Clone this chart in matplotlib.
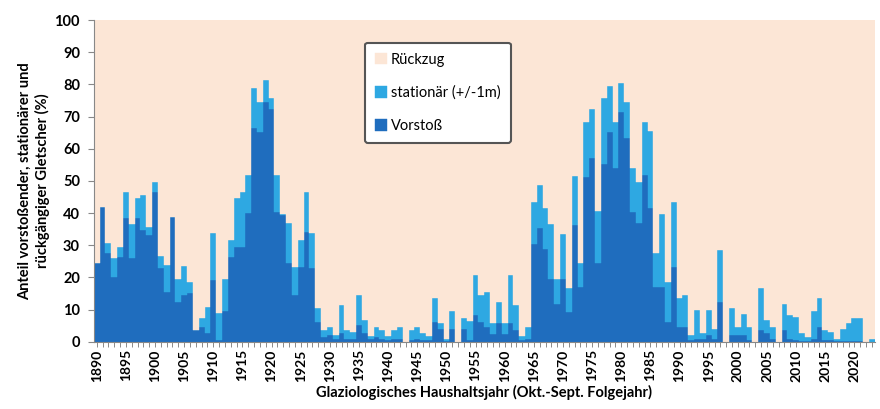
import numpy as np
import matplotlib
matplotlib.use("Agg")
import matplotlib.pyplot as plt
from matplotlib.ticker import MultipleLocator

plt.rcParams['font.family'] = ['Lato', 'DejaVu Sans']

years = list(range(1890, 2024))

# Anteil vorstoßender + stationärer Gletscher (Summe, %)
total = [
    24.6, 41.8, 30.6, 25.9, 29.5, 46.6, 36.6, 44.6, 45.6, 35.8,   # 1890-1899
    49.8, 26.6, 23.8, 38.9, 19.5, 23.6, 18.7, 3.6, 7.5, 10.8,     # 1900-1909
    33.7, 8.8, 19.5, 31.5, 44.8, 46.6, 51.8, 78.8, 74.6, 81.4,    # 1910-1919
    75.7, 51.8, 39.7, 36.8, 23.3, 31.6, 46.6, 33.7, 10.4, 3.6,    # 1920-1929
    4.7, 2.1, 11.4, 3.6, 3.1, 14.5, 6.7, 1.8, 4.7, 3.6,           # 1930-1939
    1.8, 3.6, 4.7, 0.0, 3.6, 4.7, 2.6, 1.8, 13.5, 5.7,            # 1940-1949
    0.7, 9.6, 0.0, 7.3, 6.5, 20.7, 14.5, 15.5, 5.7, 12.4,         # 1950-1959
    5.7, 20.7, 11.5, 1.7, 4.6, 43.5, 48.7, 41.7, 36.5, 19.4,      # 1960-1969
    33.6, 16.6, 51.6, 24.5, 68.4, 72.5, 40.6, 75.7, 79.5, 68.4,   # 1970-1979
    80.5, 74.6, 53.9, 49.7, 68.4, 65.6, 27.5, 39.7, 18.7, 43.5,   # 1980-1989
    13.5, 14.5, 2.1, 9.9, 2.6, 9.9, 3.8, 28.5, 0.0, 10.6,         # 1990-1999
    4.7, 8.6, 4.7, 0.0, 16.6, 6.7, 4.7, 0.0, 11.7, 8.3,           # 2000-2009
    7.6, 2.6, 1.5, 9.6, 13.5, 3.6, 3.1, 0.7, 3.8, 5.9,            # 2010-2019
    7.3, 7.3, 0.0, 0.7,                                           # 2020-2023
]

# Anteil vorstoßender Gletscher (%)
vorstoss = [
    24.6, 41.8, 27.5, 20.2, 26.4, 38.4, 25.9, 38.4, 34.7, 33.2,
    46.6, 22.8, 15.6, 38.9, 12.4, 14.5, 15.0, 3.6, 4.7, 2.6,
    19.2, 0.5, 9.5, 26.4, 29.3, 29.5, 39.9, 66.3, 65.3, 74.6,
    72.5, 40.4, 39.4, 24.4, 14.5, 23.3, 34.2, 22.8, 6.2, 1.5,
    2.1, 1.0, 2.6, 1.0, 1.0, 5.2, 2.6, 0.8, 1.5, 1.0,
    0.5, 1.0, 0.8, 0.0, 0.5, 1.0, 0.5, 0.5, 6.2, 4.1,
    0.3, 4.1, 0.0, 4.1, 0.5, 8.3, 6.0, 4.5, 2.5, 5.7,
    2.5, 5.7, 3.6, 0.5, 1.0, 30.3, 35.2, 28.8, 19.4, 11.6,
    19.4, 9.3, 36.3, 17.1, 51.3, 57.0, 24.5, 55.4, 65.3, 53.9,
    71.5, 63.2, 40.4, 36.8, 51.8, 41.5, 17.1, 17.0, 6.2, 23.3,
    4.7, 4.7, 0.5, 1.0, 1.0, 2.0, 1.0, 12.4, 0.0, 2.0,
    2.1, 2.0, 0.5, 0.0, 3.6, 2.6, 1.0, 0.0, 3.6, 1.0,
    0.5, 0.3, 0.3, 1.0, 4.7, 0.5, 0.5, 0.2, 0.3, 0.3,
    0.3, 0.3, 0.0, 0.0,
]

stationaer = [t - v for t, v in zip(total, vorstoss)]
rueckzug = [100 - t for t in total]

c_rueck = "#FCE6D6"
c_stat = "#2EA8E2"
c_vor = "#1F6DBE"

fig = plt.figure(figsize=(8.8, 4.09), dpi=100)
ax = fig.add_axes([0.1066, 0.1645, 0.8875, 0.7865])

x = np.array(years)
ax.bar(x, vorstoss, width=1.0, color=c_vor, edgecolor=c_vor, linewidth=0.3,
       label="Vorstoß")
ax.bar(x, stationaer, width=1.0, bottom=vorstoss, color=c_stat,
       edgecolor=c_stat, linewidth=0.3, label="stationär (+/-1m)")
ax.bar(x, rueckzug, width=1.0, bottom=total, color=c_rueck,
       edgecolor=c_rueck, linewidth=0.3, label="Rückzug")

ax.set_xlim(years[0] - 0.5, years[-1] + 0.5)
ax.set_ylim(0, 100)

ax.yaxis.set_major_locator(MultipleLocator(10))
ax.xaxis.set_minor_locator(MultipleLocator(1))
ax.set_xticks(range(1890, 2024, 5))
ax.set_xticklabels([str(y) for y in range(1890, 2024, 5)], rotation=90,
                   fontsize=10, fontweight="bold")
ax.tick_params(axis="y", direction="out", length=4, width=0.8,
               color="#888888", pad=6, labelsize=10.5)
for lbl in ax.get_yticklabels():
    lbl.set_fontweight("bold")
ax.tick_params(axis="x", which="both", direction="out", length=3.5,
               width=0.6, color="#777777", pad=2)

for side in ("top", "right"):
    ax.spines[side].set_visible(False)
for side in ("left", "bottom"):
    ax.spines[side].set_color("#888888")
    ax.spines[side].set_linewidth(0.8)

ax.set_ylabel("Anteil vorstoßender, stationärer und\nrückgängiger Gletscher (%)",
              fontsize=10.5, fontweight="bold", labelpad=3, linespacing=1.3)
ax.set_xlabel("Glaziologisches Haushaltsjahr (Okt.-Sept. Folgejahr)",
              fontsize=10.5, fontweight="bold", labelpad=2)

handles, labels = ax.get_legend_handles_labels()
order = [2, 1, 0]
leg = ax.legend([handles[i] for i in order], [labels[i] for i in order],
                loc="upper left", bbox_to_anchor=(0.347, 0.93),
                fontsize=10.5, frameon=True, fancybox=True,
                edgecolor="#555555", framealpha=1.0,
                handlelength=0.8, handleheight=0.8, handletextpad=0.3,
                labelspacing=1.3, borderpad=0.7, borderaxespad=0)
leg.get_frame().set_linewidth(1.5)

fig.savefig("out.png", dpi=100)
